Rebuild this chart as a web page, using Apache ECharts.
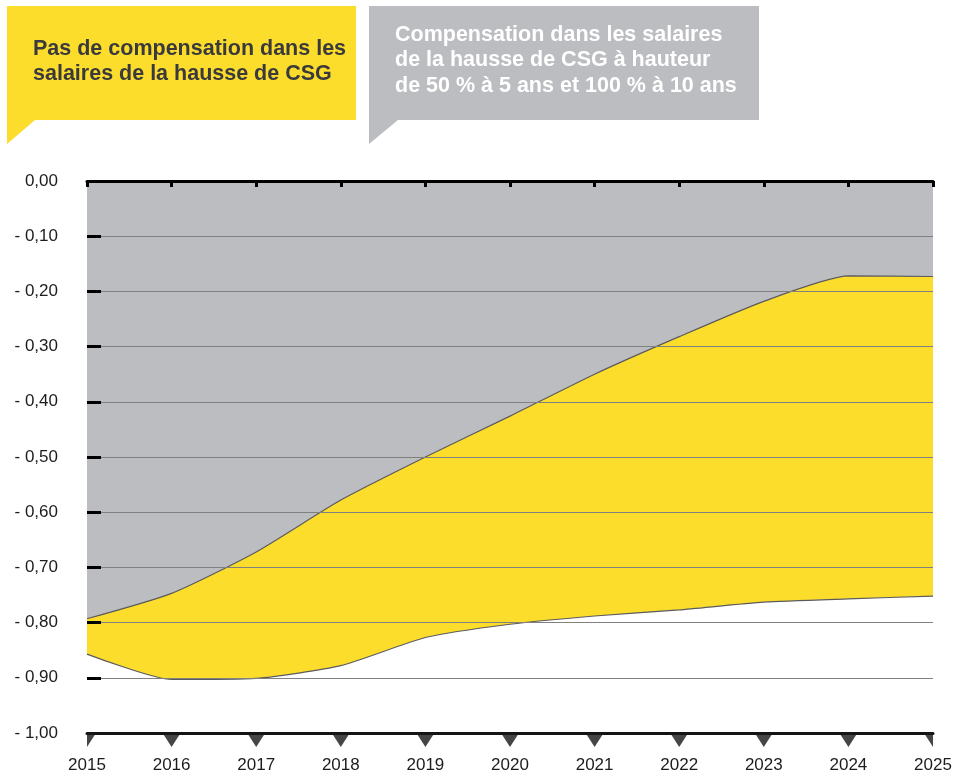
<!DOCTYPE html>
<html>
<head>
<meta charset="utf-8">
<script src="https://cdn.jsdelivr.net/npm/echarts@6/dist/echarts.min.js"></script>
<style>
  html, body { margin: 0; padding: 0; background: #ffffff; }
  #chart { width: 961px; height: 777px; }
</style>
</head>
<body>
<div id="chart"></div>
<script>
// Years on the horizontal axis
const years = ['2015', '2016', '2017', '2018', '2019', '2020', '2021', '2022', '2023', '2024', '2025'];

// Upper boundary: with compensation (50 % at 5 years, 100 % at 10 years)
const withCompensation = [-0.793, -0.747, -0.672, -0.578, -0.500, -0.426, -0.350, -0.282, -0.218, -0.172, -0.173];

// Lower boundary: no compensation of the CSG increase in wages
const noCompensation = [-0.857, -0.903, -0.901, -0.878, -0.827, -0.803, -0.788, -0.777, -0.763, -0.757, -0.752];

// Vertical axis tick labels, from 0 down to -1
const yTickLabels = ['0,00', '- 0,10', '- 0,20', '- 0,30', '- 0,40', '- 0,50', '- 0,60', '- 0,70', '- 0,80', '- 0,90', '- 1,00'];

// Callout texts
const yellowCallout = ['Pas de compensation dans les', 'salaires de la hausse de CSG'];
const greyCallout = ['Compensation dans les salaires', 'de la hausse de CSG à hauteur', 'de 50 % à 5 ans et 100 % à 10 ans'];

const YELLOW = '#fcdd2c';
const GREY = '#bcbdc1';
const FONT = '"Liberation Sans", Arial, Helvetica, sans-serif';

// Downward triangles sitting under the bottom axis (half shapes at both ends)
const triFull = 'path://M0,0L18,0L9,14Z';
const triRight = 'path://M0,0L10,0L0,14Z';
const triLeft = 'path://M0,0L10,0L10,14Z';
const markers = years.map(function (y, i) {
  if (i === 0) return { value: [y, -1], symbol: triRight, symbolSize: [9, 14], symbolOffset: [4.5, 7] };
  if (i === years.length - 1) return { value: [y, -1], symbol: triLeft, symbolSize: [9, 14], symbolOffset: [-4.5, 7] };
  return { value: [y, -1], symbol: triFull, symbolSize: [18, 14], symbolOffset: [0, 7] };
});

const chart = echarts.init(document.getElementById('chart'), null, { renderer: 'canvas' });

chart.setOption({
  animation: false,
  backgroundColor: '#ffffff',
  textStyle: { fontFamily: FONT },
  grid: { left: 87, right: 28, top: 181, bottom: 44, containLabel: false },
  xAxis: [
    {
      type: 'category',
      data: years,
      position: 'bottom',
      boundaryGap: false,
      z: 4,
      axisLine: { show: true, onZero: false, lineStyle: { color: '#141414', width: 3 } },
      axisTick: { show: false },
      axisLabel: { margin: 24, fontSize: 17, color: '#1c1c1c', fontFamily: FONT },
      splitLine: { show: false }
    },
    {
      type: 'category',
      data: years,
      position: 'top',
      boundaryGap: false,
      z: 4,
      axisLine: { show: true, onZero: false, lineStyle: { color: '#000000', width: 3 } },
      axisTick: { show: true, inside: true, length: 6, lineStyle: { color: '#000000', width: 3 } },
      axisLabel: { show: false },
      splitLine: { show: false }
    }
  ],
  yAxis: {
    type: 'value',
    min: -1,
    max: 0,
    interval: 0.1,
    z: 3,
    axisLine: { show: false },
    axisTick: { show: true, inside: true, length: 14, lineStyle: { color: '#000000', width: 3 } },
    axisLabel: {
      margin: 29,
      fontSize: 17,
      color: '#1c1c1c',
      fontFamily: FONT,
      padding: [4, 0, 0, 0],
      formatter: function (v) { return yTickLabels[Math.round(-v * 10)]; }
    },
    splitLine: { show: true, lineStyle: { color: '#808080', width: 1 } }
  },
  series: [
    {
      name: 'Pas de compensation',
      type: 'line',
      data: noCompensation,
      symbol: 'none',
      smooth: 0.2,
      z: 2,
      lineStyle: { color: '#5b5b5e', width: 1.2 },
      areaStyle: { color: YELLOW, opacity: 1, origin: 'end' }
    },
    {
      name: 'Compensation 50 % / 100 %',
      type: 'line',
      data: withCompensation,
      symbol: 'none',
      smooth: 0.2,
      z: 2,
      lineStyle: { color: '#5b5b5e', width: 1.2 },
      areaStyle: { color: GREY, opacity: 1, origin: 'end' }
    },
    {
      type: 'scatter',
      data: markers,
      xAxisIndex: 0,
      clip: false,
      silent: true,
      z: 6,
      itemStyle: { color: '#161616' }
    }
  ],
  graphic: [
    {
      type: 'polygon',
      z: 10,
      shape: { points: [[7, 6], [356, 6], [356, 120], [35, 120], [7, 144]] },
      style: { fill: YELLOW }
    },
    {
      type: 'text',
      z: 11,
      left: 33,
      top: 37,
      style: { text: yellowCallout.join('\n'), font: 'bold 21.5px ' + FONT, fill: '#3a3a3d', lineHeight: 25 }
    },
    {
      type: 'polygon',
      z: 10,
      shape: { points: [[369, 6], [759, 6], [759, 120], [398, 120], [369, 144]] },
      style: { fill: GREY }
    },
    {
      type: 'text',
      z: 11,
      left: 395,
      top: 22,
      style: { text: greyCallout.join('\n'), font: 'bold 21.5px ' + FONT, fill: '#ffffff', lineHeight: 25.7 }
    }
  ]
});
</script>
</body>
</html>
